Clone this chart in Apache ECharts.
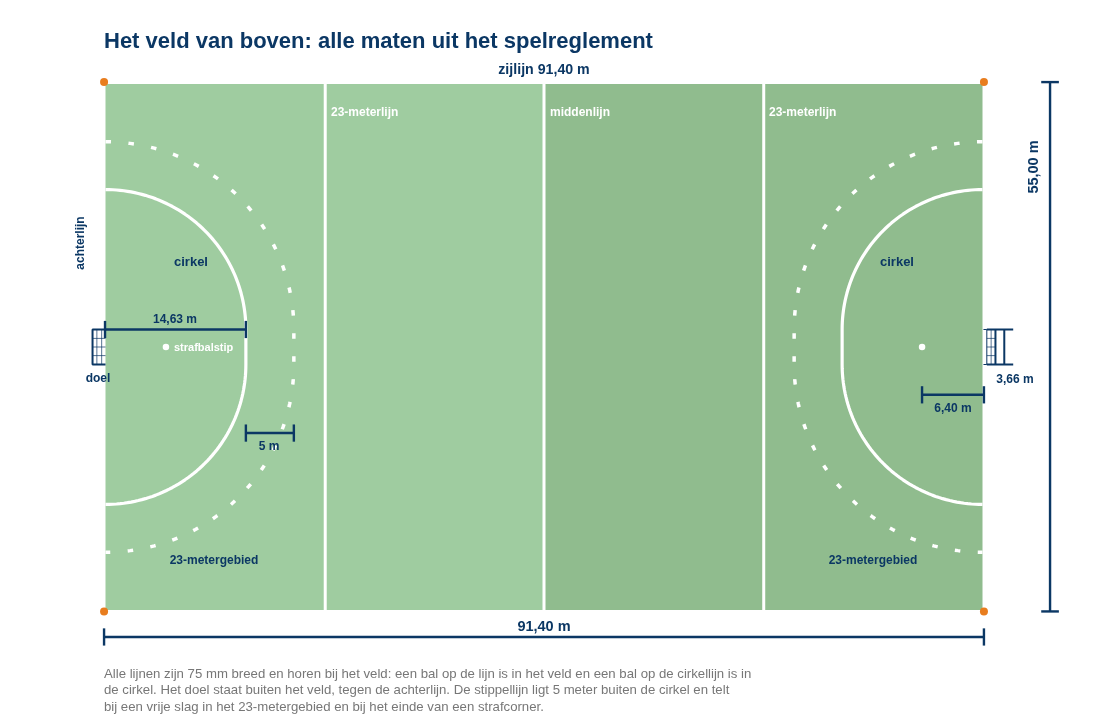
<!DOCTYPE html>
<html>
<head>
<meta charset="utf-8">
<style>html,body{margin:0;background:#fff}#main{width:1100px;height:715px}</style>
<script src="https://cdn.jsdelivr.net/npm/echarts@6/dist/echarts.min.js"></script>
</head>
<body>
<div id="main"></div>
<script>
// all field values in metres, origin = bottom left corner
var fieldLength = 91.4;
var fieldWidth = 55;
var halves = [[0, 45.7], [45.7, 91.4]];
var fieldLines = [22.9, 45.7, 68.6];
var goalWidth = 3.66;
var circleRadius = 14.63;
var dashedOffset = 5;
var spotDistance = 6.3; // drawn a bit short of the 6,40 m on its label
var cornerX = [-0.15, 91.55];
var cornerY = [-0.15, 55.2];
var netRows = [26.6, 27.5, 28.4];
// axis runs past the field, the line series clips along x even with clip: false
var axisX = [-10, 100];

var NAVY = '#0b3764', WHITE = '#ffffff', FONT = '"Liberation Sans", Arial, sans-serif';
var midY = fieldWidth / 2, postTop = midY + goalWidth / 2, postBottom = midY - goalWidth / 2;
var pxPerMetre = 877 / fieldLength;

// D shape of the circle, quarter arcs round each post joined by a straight piece
function dShape(r, x0, dir) {
    var pts = [], i, a;
    for (i = 0; i <= 60; i++) {
        a = Math.PI / 2 * i / 60;
        pts.push([x0 + dir * r * Math.sin(a), postTop + r * Math.cos(a)]);
    }
    for (i = 0; i <= 60; i++) {
        a = Math.PI / 2 * i / 60;
        pts.push([x0 + dir * r * Math.cos(a), postBottom - r * Math.sin(a)]);
    }
    return pts;
}

function line(data, color, width, extra) {
    var s = {
        type: 'line', data: data, symbol: 'none', clip: false, silent: true, animation: false,
        lineStyle: {color: color, width: width, cap: 'butt'}, z: 3
    };
    if (extra) { s.lineStyle.type = extra.type; s.lineStyle.dashOffset = extra.offset; }
    return s;
}

// dimension line with end ticks
function dimH(y, x1, x2) {
    return [line([[x1, y], [x2, y]], NAVY, 2.4), line([[x1, y - 0.9], [x1, y + 0.9]], NAVY, 2.4), line([[x2, y - 0.9], [x2, y + 0.9]], NAVY, 2.4)];
}
function dimV(x, y1, y2) {
    return [line([[x, y1], [x, y2]], NAVY, 2.4), line([[x - 0.92, y1], [x + 0.92, y1]], NAVY, 2.4), line([[x - 0.92, y2], [x + 0.92, y2]], NAVY, 2.4)];
}

var series = [{
    type: 'custom', silent: true, animation: false, z: 1, data: halves,
    renderItem: function (params, api) {
        var a = api.coord([api.value(0), fieldWidth]), b = api.coord([api.value(1), 0]);
        return {type: 'rect', shape: {x: a[0], y: a[1], width: b[0] - a[0], height: b[1] - a[1]},
            style: {fill: params.dataIndex === 0 ? '#9fcca0' : '#90bc8e'}};
    }
}];

fieldLines.forEach(function (x) { series.push(line([[x, 0], [x, fieldWidth]], WHITE, 3)); });
series.push(line(dShape(circleRadius, 0, 1), WHITE, 3.2));
series.push(line(dShape(circleRadius, fieldLength, -1), WHITE, 3.2));
series.push(line(dShape(circleRadius + dashedOffset, 0, 1), WHITE, 3.5, {type: [5.5, 17.5], offset: 0}));
series.push(line(dShape(circleRadius + dashedOffset, fieldLength, -1), WHITE, 3.5, {type: [5.5, 17.5], offset: 0}));

// left goal
series.push(line([[0, postTop], [-1.35, postTop], [-1.35, postBottom], [0, postBottom]], NAVY, 2));
[-0.9, -0.4].forEach(function (x) { series.push(line([[x, postBottom], [x, postTop]], NAVY, 0.7)); });
netRows.forEach(function (y) { series.push(line([[-1.35, y], [0, y]], NAVY, 0.7)); });
// right goal, frame runs on into the 3,66 m measure
series.push(line([[91.85, postBottom], [91.85, postTop]], NAVY, 1));
series.push(line([[92.3, postBottom], [92.3, postTop]], NAVY, 0.7));
series.push(line([[92.75, postBottom], [92.75, postTop]], NAVY, 2));
series.push(line([[93.67, postBottom], [93.67, postTop]], NAVY, 2));
[postTop, postBottom].forEach(function (y) {
    series.push(line([[91.5, y], [91.85, y]], NAVY, 1));
    series.push(line([[91.85, y], [94.6, y]], NAVY, 2));
});
netRows.forEach(function (y) { series.push(line([[91.85, y], [92.75, y]], NAVY, 0.7)); });

// measures
series = series.concat(
    dimH(-2.82, cornerX[0], cornerX[1]),
    dimV(98.44, cornerY[0], cornerY[1]),
    dimH(postTop, cornerX[0] + 0.1, circleRadius),
    dimH(18.5, circleRadius, circleRadius + dashedOffset),
    dimH(22.5, fieldLength - spotDistance, cornerX[1])
);

series.push({
    type: 'scatter', silent: true, animation: false, clip: false, z: 5, symbolSize: 8,
    itemStyle: {color: '#e87d1e', opacity: 1},
    data: [[cornerX[0], cornerY[1]], [cornerX[1], cornerY[1]], [cornerX[0], cornerY[0]], [cornerX[1], cornerY[0]]]
});
series.push({
    type: 'scatter', silent: true, animation: false, clip: false, z: 5, symbolSize: 6.5,
    itemStyle: {color: WHITE, opacity: 1},
    data: [[spotDistance, midY], [fieldLength - spotDistance, midY]]
});

function txt(text, x, y, size, color, align, rot) {
    return {
        type: 'text', x: x + (rot ? 1 : 0), y: y + (rot ? 0 : 1), rotation: rot || 0, z: 10, silent: true,
        style: {text: text, fill: color || NAVY, font: 'bold ' + size + 'px ' + FONT,
            textAlign: align || 'center', textVerticalAlign: 'middle'}
    };
}
var footer = [
    'Alle lijnen zijn 75 mm breed en horen bij het veld: een bal op de lijn is in het veld en een bal op de cirkellijn is in',
    'de cirkel. Het doel staat buiten het veld, tegen de achterlijn. De stippellijn ligt 5 meter buiten de cirkel en telt',
    'bij een vrije slag in het 23-metergebied en bij het einde van een strafcorner.'
];
var texts = [
    txt('zijlijn 91,40 m', 544, 69, 14.2),
    txt('91,40 m', 544, 626, 14.5),
    txt('55,00 m', 1033, 167, 14.5, NAVY, 'center', Math.PI / 2),
    txt('achterlijn', 80, 243, 12, NAVY, 'center', Math.PI / 2),
    txt('23-meterlijn', 331, 112, 12, WHITE, 'left'),
    txt('middenlijn', 550, 112, 12, WHITE, 'left'),
    txt('23-meterlijn', 769, 112, 12, WHITE, 'left'),
    txt('cirkel', 191, 261, 13),
    txt('cirkel', 897, 261, 13),
    txt('14,63 m', 175, 319, 12),
    txt('strafbalstip', 174, 347, 11, WHITE, 'left'),
    txt('doel', 98, 378, 12),
    txt('5 m', 269, 446, 12),
    txt('6,40 m', 953, 408, 12),
    txt('3,66 m', 1015, 379, 12),
    txt('23-metergebied', 214, 560, 12),
    txt('23-metergebied', 873, 560, 12)
];
footer.forEach(function (t, i) {
    texts.push({
        type: 'text', x: 104, y: 674 + i * 16.5, silent: true,
        style: {text: t, fill: '#777777', font: '13.2px ' + FONT, textAlign: 'left', textVerticalAlign: 'middle'}
    });
});

var myChart = echarts.init(document.getElementById('main'), null, {renderer: 'canvas'});
myChart.setOption({
    animation: false,
    backgroundColor: '#ffffff',
    title: {
        text: 'Het veld van boven: alle maten uit het spelreglement', left: 104, top: 31,
        padding: 0,
        textStyle: {color: NAVY, fontFamily: FONT, fontWeight: 'bold', fontSize: 22}
    },
    grid: {
        left: 105.5 + axisX[0] * pxPerMetre, top: 84,
        width: (axisX[1] - axisX[0]) * pxPerMetre, height: 526
    },
    xAxis: {type: 'value', min: axisX[0], max: axisX[1], show: false},
    yAxis: {type: 'value', min: 0, max: fieldWidth, show: false},
    series: series,
    graphic: {elements: texts}
});
</script>
</body>
</html>
